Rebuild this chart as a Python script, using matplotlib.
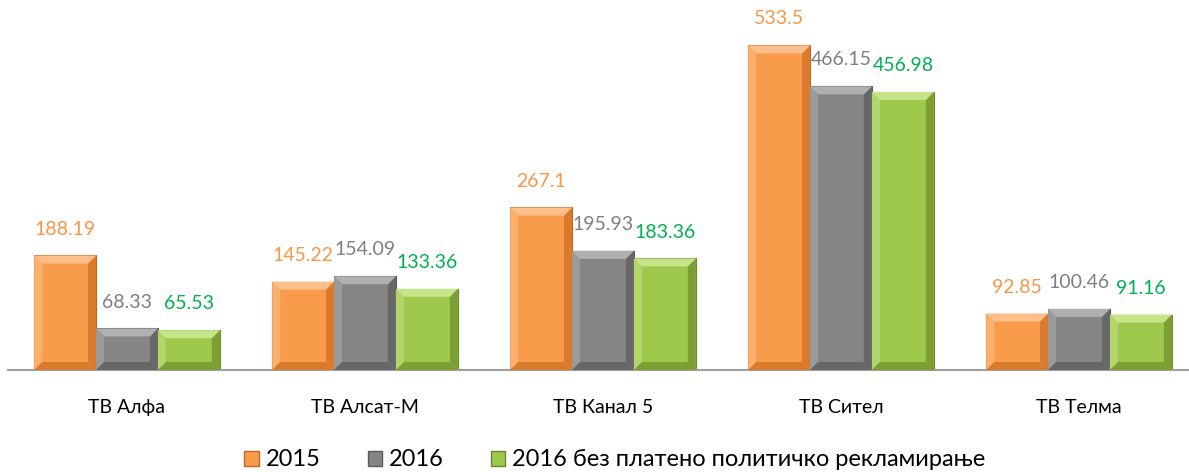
import matplotlib.pyplot as plt
from matplotlib.patches import Polygon, Patch
import numpy as np

plt.rcParams['font.family'] = ['Lato', 'Noto Sans', 'DejaVu Sans']

categories = ['ТВ Алфа', 'ТВ Алсат-М', 'ТВ Канал 5', 'ТВ Сител', 'ТВ Телма']
series_names = ['2015', '2016', '2016 без платено политичко рекламирање']
vals_2015 = [188.19, 145.22, 267.1, 533.5, 92.85]
vals_2016 = [68.33, 154.09, 195.93, 466.15, 100.46]
vals_2016_bez = [65.53, 133.36, 183.36, 456.98, 91.16]
labels_2015 = ['188.19', '145.22', '267.1', '533.5', '92.85']
labels_2016 = ['68.33', '154.09', '195.93', '466.15', '100.46']
labels_bez = ['65.53', '133.36', '183.36', '456.98', '91.16']

fills = ['#F89C4C', '#858585', '#9FC94C']
tops = ['#FDC08C', '#B0B0B0', '#C6E48A']
lefts = ['#FBB06E', '#9A9A9A', '#B3D66C']
sides = ['#D97A2C', '#676767', '#7C9F34']
edges = ['#C0651E', '#5A5A5A', '#6A8A2A']
text_colors = ['#F79646', '#7F7F7F', '#00B050']

fig = plt.figure(figsize=(11.89, 4.72), dpi=100)
ax = fig.add_axes([8 / 1189, 102 / 472, 1190 / 1189, 359 / 472])

x = np.arange(len(categories))
w = 0.26
bx = 8 / 238        # bevel size in x data units
by = 8 / 0.609      # bevel size in y data units

all_vals = [vals_2015, vals_2016, vals_2016_bez]
all_labels = [labels_2015, labels_2016, labels_bez]
for i, (vals, labs) in enumerate(zip(all_vals, all_labels)):
    bars = ax.bar(x + (i - 1) * w, vals, w, color=fills[i], edgecolor=edges[i],
                  linewidth=0.8, zorder=2)
    for b, lab in zip(bars, labs):
        x0, y0 = b.get_x(), b.get_y()
        bw, bh = b.get_width(), b.get_height()
        x1, y1 = x0 + bw, y0 + bh
        # left bevel
        ax.add_patch(Polygon([(x0, y1), (x0, y0), (x0 + bx, y0 + by), (x0 + bx, y1 - by)],
                             closed=True, facecolor=lefts[i], edgecolor='none', zorder=3))
        # right bevel
        ax.add_patch(Polygon([(x1, y1), (x1, y0), (x1 - bx, y0 + by), (x1 - bx, y1 - by)],
                             closed=True, facecolor=sides[i], edgecolor='none', zorder=3))
        # bottom bevel
        ax.add_patch(Polygon([(x0, y0), (x1, y0), (x1 - bx, y0 + by), (x0 + bx, y0 + by)],
                             closed=True, facecolor=sides[i], edgecolor='none', zorder=3))
        # top bevel
        ax.add_patch(Polygon([(x0, y1), (x1, y1), (x1 - bx, y1 - by), (x0 + bx, y1 - by)],
                             closed=True, facecolor=tops[i], edgecolor='none', zorder=3))
        ax.annotate(lab, (b.get_x() + bw / 2, y1), xytext=(0, 19), textcoords='offset points',
                    ha='center', va='center', fontsize=14, color=text_colors[i], zorder=4)

ax.set_xlim(-0.5, 4.5)
ax.set_ylim(0, 590)
ax.set_xticks(x)
ax.set_xticklabels(categories, fontsize=14)
ax.tick_params(axis='x', length=0, pad=21)
ax.set_yticks([])
for s in ['top', 'right', 'left']:
    ax.spines[s].set_visible(False)
ax.spines['bottom'].set_color('#A0A0A0')
ax.spines['bottom'].set_linewidth(1.5)

handles = [Patch(facecolor=fills[i], edgecolor=edges[i]) for i in range(3)]
fig.legend(handles, series_names, loc='center', bbox_to_anchor=(615 / 1189, 1 - 460 / 472),
           ncol=3, frameon=False, fontsize=17, handlelength=0.6, handleheight=0.6,
           handletextpad=0.3, columnspacing=2.0)

fig.savefig('out.png', dpi=100)
